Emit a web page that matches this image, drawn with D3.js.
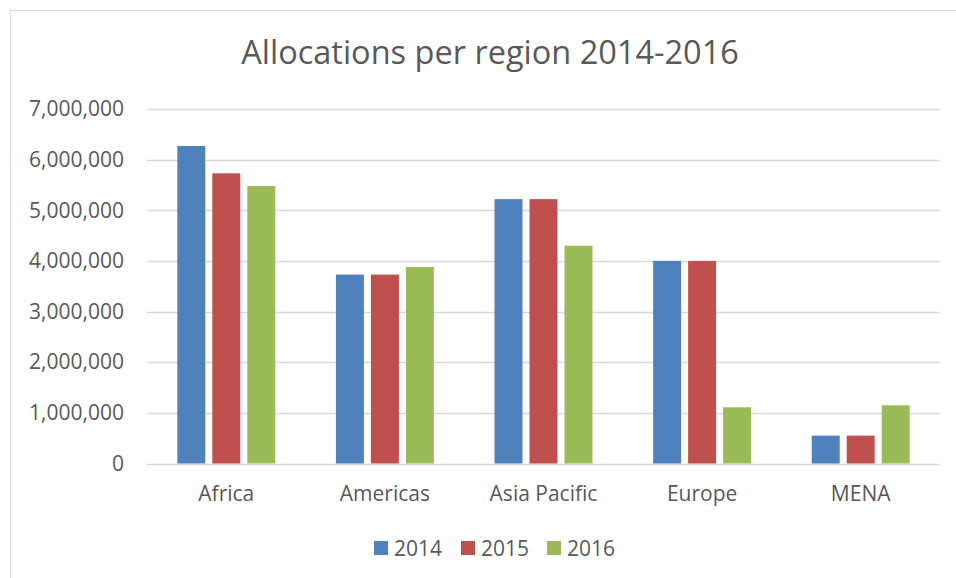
<!DOCTYPE html>
<html>
<head>
<meta charset="utf-8">
<script src="https://cdn.jsdelivr.net/npm/d3@7"></script>
<style>
  html, body { margin: 0; padding: 0; background: #fff; }
  svg { display: block; }
  text { font-family: "Open Sans", "Noto Sans", sans-serif; fill: #595959; }
</style>
</head>
<body>
<svg id="chart" width="956" height="578"></svg>
<script>
const title = "Allocations per region 2014-2016";
const categories = ["Africa", "Americas", "Asia Pacific", "Europe", "MENA"];
const years = ["2014", "2015", "2016"];
const values2014 = [6270000, 3730000, 5220000, 4000000, 550000];
const values2015 = [5730000, 3730000, 5220000, 4000000, 550000];
const values2016 = [5480000, 3880000, 4300000, 1110000, 1150000];
const yTicks = [0, 1000000, 2000000, 3000000, 4000000, 5000000, 6000000, 7000000];
const colors = ["#4F81BD", "#C0504D", "#9BBB59"];

const series = [values2014, values2015, values2016];

const svg = d3.select("#chart");
const plot = { left: 147, right: 940, top: 109, bottom: 463.5 };

// chart border (only top and left visible)
svg.append("rect")
  .attr("x", 10.5).attr("y", 10.5)
  .attr("width", 1000).attr("height", 1000)
  .attr("fill", "none").attr("stroke", "#d9d9d9").attr("stroke-width", 1);

const x0 = d3.scaleBand().domain(categories).range([plot.left, plot.right]);
const x1 = d3.scaleBand().domain(years).range([0, x0.bandwidth()])
  .paddingInner(0.2).paddingOuter(0.866);
const y = d3.scaleLinear().domain([0, 7000000]).range([plot.bottom, plot.top]);

// gridlines
svg.append("g").selectAll("line").data(yTicks).join("line")
  .attr("x1", plot.left).attr("x2", plot.right)
  .attr("y1", d => Math.round(y(d)) + 0.5).attr("y2", d => Math.round(y(d)) + 0.5)
  .attr("stroke", "#d9d9d9").attr("stroke-width", 1.3);

// y axis labels
const fmt = d3.format(",");
const yAxis = d3.axisLeft(y).tickValues(yTicks).tickFormat(fmt).tickSize(0).tickPadding(0);
const gy = svg.append("g").attr("transform", `translate(${plot.left - 23},0)`).call(yAxis);
gy.select(".domain").remove();
gy.selectAll("text").attr("font-size", 21).attr("fill", "#595959")
  .attr("font-family", "'Open Sans', sans-serif");

// bars
const groups = svg.append("g").selectAll("g").data(categories).join("g")
  .attr("transform", d => `translate(${x0(d)},0)`);
groups.selectAll("rect")
  .data((c, i) => years.map((yr, k) => ({ yr, k, v: series[k][i] })))
  .join("rect")
  .attr("x", d => x1(d.yr))
  .attr("width", x1.bandwidth())
  .attr("y", d => y(d.v))
  .attr("height", d => y(0) - y(d.v))
  .attr("fill", d => colors[d.k]);

// x axis labels
const xAxis = d3.axisBottom(x0).tickSize(0).tickPadding(0);
const gx = svg.append("g").attr("transform", `translate(0,${plot.bottom + 23})`).call(xAxis);
gx.select(".domain").remove();
gx.selectAll("text").attr("font-size", 21).attr("fill", "#595959")
  .attr("font-family", "'Open Sans', sans-serif");

// title
svg.append("text")
  .attr("x", 490).attr("y", 64)
  .attr("text-anchor", "middle")
  .attr("font-size", 32.5)
  .text(title);

// legend
const legendX = [374, 461, 547];
const lg = svg.append("g").selectAll("g").data(years).join("g")
  .attr("transform", (d, i) => `translate(${legendX[i]},541)`);
lg.append("rect").attr("width", 14).attr("height", 14).attr("fill", (d, i) => colors[i]);
lg.append("text").attr("x", 20).attr("y", 15).attr("font-size", 21).text(d => d);
</script>
</body>
</html>
